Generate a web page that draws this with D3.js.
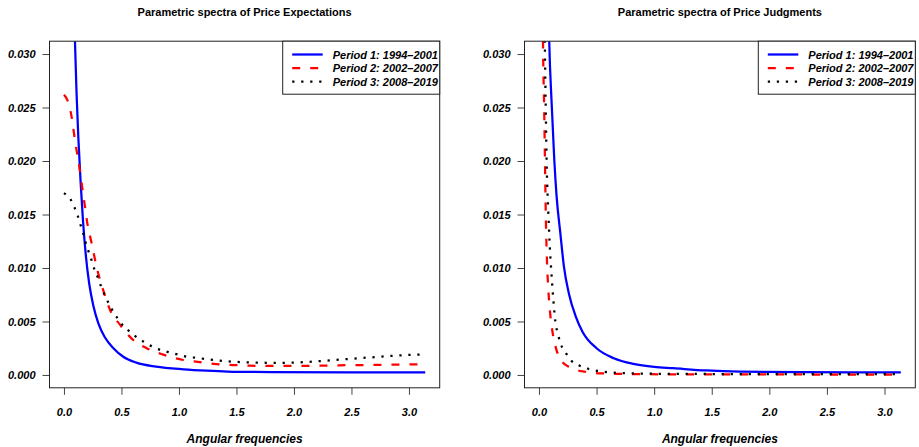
<!DOCTYPE html>
<html>
<head>
<meta charset="utf-8">
<script src="https://cdn.jsdelivr.net/npm/d3@7"></script>
<style>
  body { margin: 0; background: #fff; }
  svg text { font-family: "Liberation Sans", Arial, Helvetica, sans-serif; }
</style>
</head>
<body>
<div id="dataviz"></div>
<script>
// values (angular frequency, spectral density)
let periods = ["Period 1: 1994\u20132001", "Period 2: 2002\u20132007", "Period 3: 2008\u20132019"];
let xTicks = [0, 0.5, 1, 1.5, 2, 2.5, 3];
let yTicks = [0, 0.005, 0.01, 0.015, 0.02, 0.025, 0.03];

// price expectations
let expFreq1 = [0.085, 0.0957, 0.11, 0.125, 0.145, 0.165, 0.19, 0.22, 0.255, 0.30, 0.357, 0.43, 0.516, 0.63, 0.8, 1.04, 1.24, 1.42, 1.8, 2.5, 3.1416];
let expSpec1 = [0.0355, 0.0312, 0.0262, 0.0222, 0.0180, 0.0145, 0.0112, 0.0085, 0.0065, 0.0048, 0.0035, 0.0025, 0.0017, 0.00115, 0.00078, 0.00053, 0.0004, 0.00032, 0.00027, 0.00025, 0.00025];
let expFreq2 = [0, 0.037, 0.067, 0.087, 0.11, 0.133, 0.154, 0.183, 0.203, 0.241, 0.284, 0.342, 0.40, 0.487, 0.589, 0.719, 0.863, 1.037, 1.183, 1.3, 1.47, 1.62, 1.8, 2.08, 2.25, 2.4, 2.6, 2.86, 3.1416];
let expSpec2 = [0.0262, 0.0255, 0.0241, 0.0226, 0.0210, 0.0195, 0.0179, 0.0157, 0.0142, 0.0123, 0.0101, 0.0079, 0.0061, 0.0047, 0.0034, 0.0025, 0.0019, 0.0014, 0.0012, 0.00103, 0.00093, 0.00087, 0.00084, 0.00084, 0.00087, 0.0009, 0.00093, 0.00096, 0.001];
let expFreq3 = [0, 0.058, 0.09, 0.119, 0.145, 0.168, 0.191, 0.215, 0.241, 0.264, 0.299, 0.322, 0.357, 0.394, 0.429, 0.473, 0.522, 0.58, 0.646, 0.713, 0.777, 0.849, 0.922, 0.994, 1.067, 1.154, 1.226, 1.385, 1.545, 1.704, 1.863, 2.023, 2.197, 2.357, 2.516, 2.676, 2.835, 2.994, 3.1416];
let expSpec3 = [0.0170, 0.0164, 0.0157, 0.0149, 0.0140, 0.0132, 0.0123, 0.0115, 0.0107, 0.0099, 0.0090, 0.0083, 0.0074, 0.0066, 0.0059, 0.0052, 0.0045, 0.0040, 0.0034, 0.0030, 0.0026, 0.0023, 0.0021, 0.0019, 0.0017, 0.0016, 0.0015, 0.0013, 0.0012, 0.00115, 0.00113, 0.00117, 0.00127, 0.0014, 0.00153, 0.00165, 0.00178, 0.00187, 0.00193];

// price judgments
let judFreq1 = [0.08, 0.089, 0.11, 0.133, 0.153, 0.185, 0.217, 0.26, 0.318, 0.38, 0.5, 0.65, 0.82, 1.0, 1.165, 1.45, 1.75, 2.3, 3.1416];
let judSpec1 = [0.036, 0.0312, 0.0254, 0.0201, 0.0167, 0.0133, 0.0101, 0.0076, 0.0055, 0.0040, 0.0025, 0.00156, 0.00103, 0.00075, 0.00063, 0.00042, 0.00031, 0.00026, 0.00025];
let judFreq2 = [0.03, 0.035, 0.045, 0.052, 0.06, 0.07, 0.08, 0.095, 0.115, 0.145, 0.19, 0.27, 0.4, 0.55, 0.8, 1.5, 3.1416];
let judSpec2 = [0.038, 0.0312, 0.025, 0.020, 0.0145, 0.0105, 0.0082, 0.0060, 0.0042, 0.0026, 0.0014, 0.0007, 0.0003, 0.00015, 0.00008, 0.00005, 0.00004];
let judFreq3 = [0.045, 0.05, 0.06, 0.068, 0.08, 0.095, 0.11, 0.125, 0.142, 0.165, 0.2, 0.23, 0.275, 0.345, 0.42, 0.56, 0.65, 0.8, 1.2, 2.0, 3.1416];
let judSpec3 = [0.038, 0.032, 0.024, 0.0192, 0.0155, 0.0118, 0.0092, 0.0070, 0.0050, 0.0038, 0.0026, 0.0021, 0.0014, 0.0009, 0.0006, 0.00031, 0.00022, 0.00015, 0.0001, 0.00008, 0.00007];

let colors = ["#0000ff", "#ff0000", "#000000"];
let dashes = [null, "8,10", "2.25,6.75"];

let width = 919, height = 447;

let svg = d3.select("#dataviz")
    .append("svg")
    .attr("width", width)
    .attr("height", height);

function zip(f, s) {
    return f.map(function(d, i) { return [d, s[i]]; });
}

function drawPanel(id, left, right, title, series) {
    let top = 41.2, bottom = 387.8;

    let x = d3.scaleLinear().domain([-0.1257, 3.2673]).range([left, right]);
    let y = d3.scaleLinear().domain([-0.0012, 0.0312]).range([bottom, top]);

    let g = svg.append("g");

    g.append("clipPath").attr("id", "clip" + id)
        .append("rect")
        .attr("x", left).attr("y", top)
        .attr("width", right - left).attr("height", bottom - top);

    // curves
    let line = d3.line()
        .x(function(d) { return x(d[0]); })
        .y(function(d) { return y(d[1]); })
        .curve(d3.curveMonotoneX);

    let plot = g.append("g").attr("clip-path", "url(#clip" + id + ")");
    series.forEach(function(s, i) {
        plot.append("path")
            .datum(s)
            .attr("d", line)
            .attr("fill", "none")
            .attr("stroke", colors[i])
            .attr("stroke-width", 2.25)
            .attr("stroke-dasharray", dashes[i]);
    });

    // axes
    let yAxis = g.append("g")
        .attr("transform", "translate(" + left + ",0)")
        .call(d3.axisLeft(y).tickValues(yTicks).tickSize(7).tickPadding(7).tickFormat(d3.format(".3f")));
    yAxis.select(".domain").remove();

    let xAxis = g.append("g")
        .attr("transform", "translate(0," + bottom + ")")
        .call(d3.axisBottom(x).tickValues(xTicks).tickSize(7).tickPadding(13).tickFormat(d3.format(".1f")));
    xAxis.select(".domain").remove();

    g.selectAll(".tick text")
        .style("font-size", "11px")
        .style("font-weight", "bold")
        .style("font-style", "italic")
        .attr("fill", "#000");
    g.selectAll(".tick line").attr("stroke", "#444");

    g.append("rect")
        .attr("x", left).attr("y", top)
        .attr("width", right - left).attr("height", bottom - top)
        .attr("fill", "none")
        .attr("stroke", "#222")
        .attr("stroke-width", 1);

    g.append("text")
        .attr("x", (left + right) / 2)
        .attr("y", 16)
        .attr("text-anchor", "middle")
        .style("font-size", "11px")
        .style("font-weight", "bold")
        .text(title);

    g.append("text")
        .attr("x", (left + right) / 2)
        .attr("y", 443)
        .attr("text-anchor", "middle")
        .style("font-size", "12px")
        .style("font-weight", "bold")
        .style("font-style", "italic")
        .text("Angular frequencies");

    // legend
    let lx = right - 157;
    let legend = g.append("g");
    legend.append("rect")
        .attr("x", lx).attr("y", top)
        .attr("width", right - lx).attr("height", 53)
        .attr("fill", "#fff")
        .attr("stroke", "#222")
        .attr("stroke-width", 1);

    periods.forEach(function(p, i) {
        let ly = 54.5 + i * 13.5;
        legend.append("line")
            .attr("x1", lx + 9.5).attr("x2", lx + 40)
            .attr("y1", ly).attr("y2", ly)
            .attr("stroke", colors[i])
            .attr("stroke-width", 2.25)
            .attr("stroke-dasharray", dashes[i]);
        legend.append("text")
            .attr("x", lx + 50)
            .attr("y", ly + 4)
            .style("font-size", "11px")
            .style("font-weight", "bold")
            .style("font-style", "italic")
            .text(p);
    });
}

drawPanel("a", 49.5, 439.7, "Parametric spectra of Price Expectations",
    [zip(expFreq1, expSpec1), zip(expFreq2, expSpec2), zip(expFreq3, expSpec3)]);
drawPanel("b", 524.5, 915.3, "Parametric spectra of Price Judgments",
    [zip(judFreq1, judSpec1), zip(judFreq2, judSpec2), zip(judFreq3, judSpec3)]);
</script>
</body>
</html>
